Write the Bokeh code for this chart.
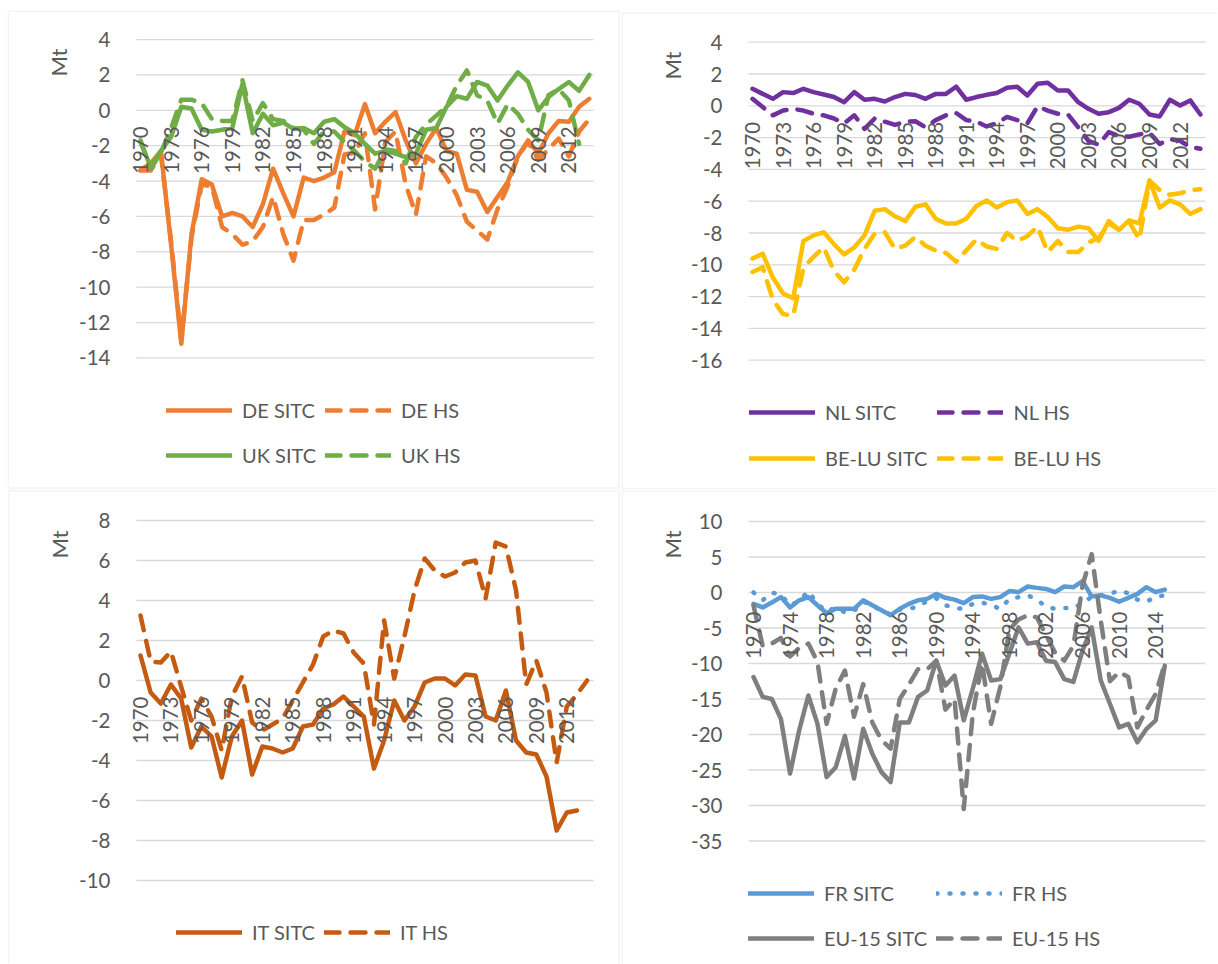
import math
from bokeh.plotting import figure
from bokeh.models import (ColumnDataSource, FixedTicker, Label, Legend, LegendItem,
                          BoxAnnotation, Spacer)
from bokeh.layouts import column, row
from bokeh.embed import file_html
from bokeh.resources import INLINE

nan = float("nan")

# ---------------- data ----------------
years_a = list(range(1970, 2015))
years_b = list(range(1970, 2016))

de_sitc = [-3.4, -3.0, -2.3, -7.6, -13.2, -7.0, -3.9, -4.2, -6.0, -5.8,
           -6.0, -6.6, -5.3, -3.3, -4.7, -6.0, -3.8, -4.0, -3.8, -3.5,
           -1.2, -1.4, 0.35, -1.3, -0.65, -0.1, -1.7, -3.0, -1.9, -1.0,
           -2.3, -2.45, -4.5, -4.6, -5.75, -4.9, -4.05, -2.6, -1.7, -2.45,
           -1.3, -0.6, -0.65, 0.2, 0.65]
de_hs = [-3.4, -3.4, -2.5, -7.4, -13.0, -7.2, -4.2, -4.3, -6.6, -7.0,
         -7.6, -7.4, -6.6, -4.9, -7.0, -8.5, -6.2, -6.2, -5.9, -5.5,
         -2.5, -2.4, -1.3, -5.6, -1.8, -1.2, -4.2, -5.9, -2.6, -3.0,
         -3.8, -4.8, -6.3, -6.8, -7.3, -5.6, -4.3, -2.6, -1.8, -2.8,
         -2.2, -1.6, -2.6, -1.2, -0.5]
uk_sitc = [-1.8, -3.2, -2.3, -1.5, 0.2, 0.1, -1.1, -1.2, -1.1, -1.0,
           1.5, -1.3, -0.2, -0.85, -0.7, -1.05, -1.0, -1.3, -0.65, -0.5,
           -0.95, -1.3, -1.9, -2.45, -2.3, -2.45, -2.65, -2.45, -1.1, -1.0,
           0.2, 0.8, 0.65, 1.6, 1.4, 0.55, 1.4, 2.15, 1.6, 0.0,
           0.75, 1.2, 1.6, 1.1, 2.0]
uk_hs = [-1.7, -3.3, -2.4, -1.0, 0.6, 0.6, 0.4, -0.5, -0.6, -0.6,
         1.7, -0.6, 0.4, -0.5, -0.6, -1.0, -1.1, -1.9, -1.2, -1.2,
         -1.8, -2.3, -2.9, -3.3, -2.2, -2.3, -3.0, -1.5, -0.8, -0.3,
         0.2, 1.4, 2.25, 0.85, 0.55, -0.75, 0.35, -0.2, -1.1, -1.7,
         0.85, 1.2, 0.55, -1.9, nan]

nl_sitc = [1.07, 0.75, 0.44, 0.86, 0.8, 1.07, 0.86, 0.71, 0.55, 0.23,
           0.86, 0.38, 0.44, 0.27, 0.55, 0.75, 0.68, 0.44, 0.75, 0.75,
           1.2, 0.38, 0.55, 0.69, 0.8, 1.13, 1.2, 0.65, 1.38, 1.45,
           0.96, 0.96, 0.23, -0.19, -0.5, -0.4, -0.13, 0.38, 0.13, -0.55,
           -0.67, 0.38, 0.02, 0.34, -0.55]
nl_hs = [0.44, -0.08, -0.6, -0.3, -0.2, -0.3, -0.5, -0.6, -0.8, -1.1,
         -0.6, -1.45, -0.8, -1.0, -1.2, -1.0, -0.97, -1.35, -0.9, -0.6,
         -0.45, -0.9, -1.0, -1.3, -1.1, -0.7, -0.9, -1.1, -0.04, -0.3,
         -0.5, -0.55, -1.35, -2.2, -2.45, -1.65, -1.9, -1.95, -1.8, -1.7,
         -2.4, -2.1, -2.2, -2.6, -2.7]
be_sitc = [-9.6, -9.3, -10.8, -11.8, -12.1, -8.5, -8.15, -7.95, -8.7, -9.35,
           -8.9, -8.15, -6.6, -6.5, -6.95, -7.25, -6.35, -6.2, -7.1, -7.4,
           -7.4, -7.1, -6.3, -5.95, -6.4, -6.06, -5.95, -6.8, -6.5, -7.0,
           -7.7, -7.8, -7.6, -7.7, -8.5, -7.25, -7.8, -7.2, -7.4, -4.7,
           -6.4, -5.95, -6.2, -6.8, -6.5]
be_hs = [-10.45, -10.15, -12.2, -13.1, -13.2, -10.2, -9.5, -8.9, -10.4, -11.1,
         -10.3, -9.0, -8.05, -7.95, -9.0, -8.8, -8.25, -8.8, -9.1, -9.25,
         -9.8, -9.1, -8.4, -8.85, -9.0, -8.0, -8.5, -8.2, -7.6, -9.2,
         -8.5, -9.2, -9.2, -8.6, -8.3, -7.4, -7.8, -7.3, -8.4, -4.7,
         -5.3, -5.6, -5.5, -5.3, -5.25]

it_sitc = [1.25, -0.6, -1.15, -0.2, -0.9, -3.35, -2.3, -2.8, -4.85, -2.8,
           -2.0, -4.7, -3.3, -3.4, -3.6, -3.4, -2.3, -2.2, -1.4, -1.2,
           -0.8, -1.3, -1.8, -4.4, -3.0, -1.0, -2.0, -1.3, -0.1, 0.1,
           0.1, -0.25, 0.3, 0.25, -1.8, -2.0, -0.5, -3.0, -3.6, -3.7,
           -4.8, -7.5, -6.6, -6.5, nan]
it_hs = [3.25, 0.95, 0.9, 1.45, -0.3, -2.0, -0.9, -1.8, -3.5, -0.8,
         0.2, -2.1, -2.5, -2.2, -1.9, -1.0, -0.1, 0.8, 2.2, 2.5,
         2.35, 1.4, 0.85, -2.2, 3.0, 0.1, 2.2, 4.5, 6.1, 5.5,
         5.2, 5.4, 5.9, 6.0, 4.1, 6.9, 6.7, 4.5, -0.2, 1.0,
         -0.6, -4.1, -1.3, -0.7, 0.0]

fr_sitc = [-1.6, -2.1, -1.4, -0.65, -2.1, -1.1, -0.65, -1.8, -2.9, -2.3,
           -2.3, -2.3, -1.1, -1.8, -2.5, -3.2, -2.3, -1.6, -1.1, -0.9,
           -0.2, -0.75, -1.0, -1.5, -0.65, -0.55, -0.9, -0.65, 0.2, 0.05,
           0.85, 0.65, 0.5, 0.05, 0.85, 0.75, 1.6, -0.55, -0.4, -0.75,
           -1.3, -0.75, -0.2, 0.75, 0.05, 0.4]
fr_hs = [0.0, -1.1, 0.0, -0.3, -1.8, -1.2, 0.2, -1.6, -2.7, -2.1,
         -2.8, -2.6, -1.3, -1.8, -2.6, -3.1, -2.4, -2.3, -2.0, -1.2,
         -0.8, -1.8, -2.2, -2.3, -1.6, -1.4, -1.8, -2.3, -0.9, -0.65,
         -0.4, -1.0, -2.0, -2.3, -2.2, -2.2, -1.5, -0.6, -0.4, -0.2,
         0.3, -0.1, -1.0, -1.3, -0.6, -0.4]
eu_sitc = [-11.9, -14.7, -15.0, -17.8, -25.5, -19.4, -14.5, -18.5, -26.0, -24.6,
           -20.2, -26.2, -19.2, -22.7, -25.3, -26.7, -18.3, -18.3, -14.7, -13.8,
           -9.6, -13.1, -11.7, -18.0, -13.5, -8.6, -12.4, -12.2, -8.6, -4.9,
           -7.2, -7.0, -9.6, -9.8, -12.2, -12.6, -8.2, -4.9, -12.4, -15.7,
           -19.0, -18.5, -21.1, -19.2, -18.0, -10.3]
eu_hs = [-1.8, -7.5, -7.2, -6.4, -9.0, -7.8, -7.2, -9.8, -18.5, -13.5,
         -11.0, -17.5, -12.9, -18.3, -20.8, -22.0, -15.0, -13.0, -10.8, -10.8,
         -9.6, -16.5, -15.0, -30.5, -17.0, -10.0, -18.5, -13.3, -5.2, -3.8,
         -3.2, -3.5, -6.0, -8.5, -9.6, -7.5, 1.0, 5.4, -4.0, -12.5,
         -11.2, -11.9, -19.0, -16.5, -14.3, -10.0]

# tick values and labels
y_ticks_1 = [4, 2, 0, -2, -4, -6, -8, -10, -12, -14]
y_labels_1 = ["4", "2", "0", "-2", "-4", "-6", "-8", "-10", "-12", "-14"]
y_ticks_2 = [4, 2, 0, -2, -4, -6, -8, -10, -12, -14, -16]
y_labels_2 = ["4", "2", "0", "-2", "-4", "-6", "-8", "-10", "-12", "-14", "-16"]
y_ticks_3 = [8, 6, 4, 2, 0, -2, -4, -6, -8, -10]
y_labels_3 = ["8", "6", "4", "2", "0", "-2", "-4", "-6", "-8", "-10"]
y_ticks_4 = [10, 5, 0, -5, -10, -15, -20, -25, -30, -35]
y_labels_4 = ["10", "5", "0", "-5", "-10", "-15", "-20", "-25", "-30", "-35"]
x_ticks_3 = [1970, 1973, 1976, 1979, 1982, 1985, 1988, 1991, 1994, 1997,
             2000, 2003, 2006, 2009, 2012]
x_labels_3 = ["1970", "1973", "1976", "1979", "1982", "1985", "1988", "1991",
              "1994", "1997", "2000", "2003", "2006", "2009", "2012"]
x_ticks_4 = [1970, 1974, 1978, 1982, 1986, 1990, 1994, 1998, 2002, 2006, 2010, 2014]
x_labels_4 = ["1970", "1974", "1978", "1982", "1986", "1990", "1994", "1998",
              "2002", "2006", "2010", "2014"]

# ---------------- style ----------------
FONT = "Lato"
TXT = "#595959"
GRID = "#D9D9D9"
DASH = "15 11"
DOT = "1 12"
LW = 4.5

src_a = ColumnDataSource(dict(year=years_a, de_sitc=de_sitc, de_hs=de_hs,
                              uk_sitc=uk_sitc, uk_hs=uk_hs, nl_sitc=nl_sitc,
                              nl_hs=nl_hs, be_sitc=be_sitc, be_hs=be_hs,
                              it_sitc=it_sitc, it_hs=it_hs))
src_b = ColumnDataSource(dict(year=years_b, fr_sitc=fr_sitc, fr_hs=fr_hs,
                              eu_sitc=eu_sitc, eu_hs=eu_hs))


def panel(W, H, a, b, c, d, src, series, yticks, ylabels, xticks, xlabels,
          x_standoff, grid_px, mt_xy, leg_x0, leg_row1, leg_pitch, box_px):
    # a: local px of year 1970, b: px per year, c: local px of value 0, d: px per unit
    def dx(px):
        return 1970 + (px - a) / b

    def dy(py):
        return (c - py) / d

    p = figure(width=W, height=H, x_range=(dx(0), dx(W)), y_range=(dy(H), dy(0)),
               output_backend="svg", toolbar_location=None, tools="",
               min_border=0)
    p.outline_line_color = None
    p.background_fill_color = "white"
    p.border_fill_color = "white"
    p.xgrid.visible = False
    p.ygrid.visible = False

    # chart-area border
    bl, bt, br, bb = box_px
    p.add_layout(BoxAnnotation(left=dx(bl), right=dx(br), top=dy(bt), bottom=dy(bb),
                               fill_alpha=0, fill_color=None,
                               line_color=GRID, line_width=1.5))

    gx0, gx1 = dx(grid_px[0]), dx(grid_px[1])
    n = len(yticks)
    p.segment(x0=[gx0] * n, x1=[gx1] * n, y0=yticks, y1=yticks,
              line_color=GRID, line_width=1.3)

    xa = p.xaxis[0]
    xa.fixed_location = 0
    xa.ticker = FixedTicker(ticks=xticks)
    xa.major_label_overrides = dict(zip(xticks, xlabels))
    xa.major_label_orientation = math.pi / 2
    xa.axis_line_color = None
    xa.major_tick_line_color = None
    xa.minor_tick_line_color = None
    xa.major_tick_out = 0
    xa.major_tick_in = 0
    xa.major_label_standoff = x_standoff
    xa.major_label_text_font = FONT
    xa.major_label_text_font_size = "20.5px"
    xa.major_label_text_color = TXT

    ya = p.yaxis[0]
    ya.fixed_location = gx0
    ya.ticker = FixedTicker(ticks=yticks)
    ya.major_label_overrides = dict(zip(yticks, ylabels))
    ya.axis_line_color = None
    ya.major_tick_line_color = None
    ya.minor_tick_line_color = None
    ya.major_tick_out = 0
    ya.major_tick_in = 0
    ya.major_label_standoff = 26
    ya.major_label_text_font = FONT
    ya.major_label_text_font_size = "20.5px"
    ya.major_label_text_color = TXT

    items = []
    for col, label, color, dash, lw in series:
        r = p.line("year", col, source=src, line_color=color, line_width=lw,
                   line_dash=dash, line_cap="round", line_join="round")
        items.append(LegendItem(label=label, renderers=[r]))

    nrows = (len(items) + 1) // 2
    ih = 36 if nrows > 1 else 30
    sp = leg_pitch - ih if nrows > 1 else 9
    total_h = nrows * ih + (nrows - 1) * sp
    top = leg_row1 - ih / 2
    ly = H - top - total_h
    legend = Legend(items=items, location=(leg_x0, ly), orientation="horizontal",
                    ncols=2, glyph_width=66, glyph_height=ih, label_height=ih,
                    label_standoff=10, spacing=sp, padding=0, margin=0,
                    border_line_color=None, background_fill_alpha=0,
                    label_text_font=FONT, label_text_font_size="20px",
                    label_text_color=TXT)
    p.add_layout(legend)

    p.add_layout(Label(x=mt_xy[0], y=H - mt_xy[1], x_units="screen", y_units="screen",
                       text="Mt", angle=math.pi / 2, text_align="center",
                       text_baseline="middle", text_font=FONT,
                       text_font_size="22px", text_color=TXT))
    return p


DE_C, UK_C = "#ED7D31", "#70AD47"
NL_C, BE_C = "#7030A0", "#FFC000"
IT_C = "#C55A11"
FR_C, EU_C = "#5B9BD5", "#7F7F7F"

# panel origins on the page: P1 (7,10), P2 (620,10), P3 (7,489), P4 (620,489)
W1, W2, H1, H2 = 613, 597, 479, 474

p1 = panel(W1, H1, 133, 10.2, 99.8, 17.69, src_a,
           [("de_sitc", "DE SITC", DE_C, "solid", LW),
            ("de_hs", "DE HS", DE_C, DASH, LW),
            ("uk_sitc", "UK SITC", UK_C, "solid", LW),
            ("uk_hs", "UK HS", UK_C, DASH, LW)],
           y_ticks_1, y_labels_1, x_ticks_3, x_labels_3, 16,
           (129, 586), (51, 52), 159, 400, 45,
           (0.75, 0.75, W1 - 1.5, H1 - 1.5))

p2 = panel(W2, H1, 132, 10.18, 95.3, 15.9, src_a,
           [("nl_sitc", "NL SITC", NL_C, "solid", LW),
            ("nl_hs", "NL HS", NL_C, DASH, LW),
            ("be_sitc", "BE-LU SITC", BE_C, "solid", LW),
            ("be_hs", "BE-LU HS", BE_C, DASH, LW)],
           y_ticks_2, y_labels_2, x_ticks_3, x_labels_3, 16,
           (128, 585), (52, 55), 129, 402, 46,
           (1.75, 2.75, W2 + 20, H1 - 0.75))

p3 = panel(W1, H2, 133, 10.15, 191, 20.0, src_a,
           [("it_sitc", "IT SITC", IT_C, "solid", LW),
            ("it_hs", "IT HS", IT_C, DASH, LW)],
           y_ticks_3, y_labels_3, x_ticks_3, x_labels_3, 16,
           (129, 586), (52, 55), 169, 443, 45,
           (1.25, 1.25, W1 - 1.5, H2 + 20))

p4 = panel(W2, H2, 133, 9.14, 103, 7.1, src_b,
           [("fr_sitc", "FR SITC", FR_C, "solid", LW),
            ("fr_hs", "FR HS", FR_C, DOT, LW),
            ("eu_sitc", "EU-15 SITC", EU_C, "solid", LW),
            ("eu_hs", "EU-15 HS", EU_C, DASH, LW)],
           y_ticks_4, y_labels_4, x_ticks_4, x_labels_4, 19,
           (128, 585), (52, 55), 128, 404, 45,
           (1.75, 1.75, W2 + 20, H2 + 20))

grid = column(row(p1, p2), row(p3, p4))
layout = column(Spacer(width=7 + W1 + W2, height=10),
                row(Spacer(width=7, height=H1 + H2), grid))
open("out.html", "w").write(file_html(layout, INLINE))
